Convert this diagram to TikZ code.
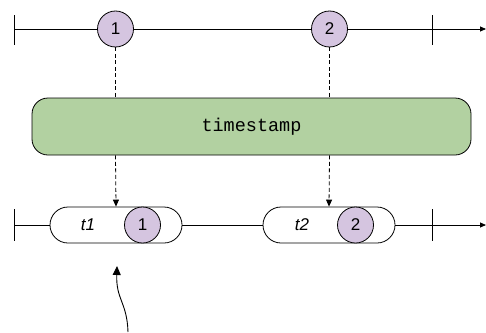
\documentclass[tikz,border=0pt]{standalone}
\usepackage{fontspec}
\setmainfont{Liberation Sans}
\setmonofont{Liberation Mono}
\usetikzlibrary{arrows.meta}
\definecolor{evpurple}{HTML}{D5C5E0}
\definecolor{opgreen}{HTML}{B2D1A1}
\begin{document}
\begin{tikzpicture}[x=1pt,y=-1pt,
  line width=0.8pt,
  ev/.style={circle,draw,fill=evpurple,minimum size=36pt,inner sep=0pt,font=\fontsize{17}{17}\selectfont},
  pill/.style={draw,fill=white,rounded corners=18pt,minimum width=132pt,minimum height=36pt,inner sep=0pt},
  opbox/.style={draw,fill=opgreen,rounded corners=16pt,minimum width=439pt,minimum height=57pt,font=\ttfamily\fontsize{18.5}{18.5}\selectfont},
  lbl/.style={font=\itshape\fontsize{17}{17}\selectfont},
  dashed line/.style={dash pattern=on 4pt off 2.5pt,line width=0.8pt},
  dashline/.style={dashed line,-{Triangle[length=7pt,width=6pt]}},
  tip/.style={-{Triangle[length=6pt,width=5pt]}}
]
\useasboundingbox (0,0) rectangle (486,332);
% top timeline
\coordinate (ts) at (14,29);
\coordinate (te) at (486,29);
\draw[tip] (ts) -- (te);
\draw (14,15) -- (14,45);
\draw (432,15) -- (432,45);
\node[ev] (a1) at (115.5,29) {1};
\node[ev] (a2) at (329.5,29) {2};
% operator
\node[opbox] (op) at (251.5,126.5) {timestamp};
% bottom timeline
\coordinate (bs) at (14,225);
\coordinate (be) at (486,225);
\draw[tip] (bs) -- (be);
\draw (14,209) -- (14,241);
\draw (432,209) -- (432,241);
\node[pill] (pill1) at (116,225) {};
\node[pill] (pill2) at (329,225) {};
\node[lbl] (t1) at (88,225) {t1};
\node[ev] (b1) at (142.5,225) {1};
\node[lbl] (t2) at (302,225) {t2};
\node[ev] (b2) at (355.5,225) {2};
% dashed connectors
\draw[dashed line] (a1.south) -- (a1.south |- op.north);
\draw[dashed line] (a2.south) -- (a2.south |- op.north);
\draw[dashline] (a1.south |- op.south) -- (pill1.north);
\draw[dashline] (a2.south |- op.south) -- (pill2.north);
% curved pointer
\coordinate (cs) at (128,332);
\coordinate (ce) at (117,266);
\draw[line width=0.9pt,-{Triangle[length=9pt,width=8pt]}] (cs) .. controls (127,302) and (116,300) .. (ce);
\end{tikzpicture}
\end{document}
